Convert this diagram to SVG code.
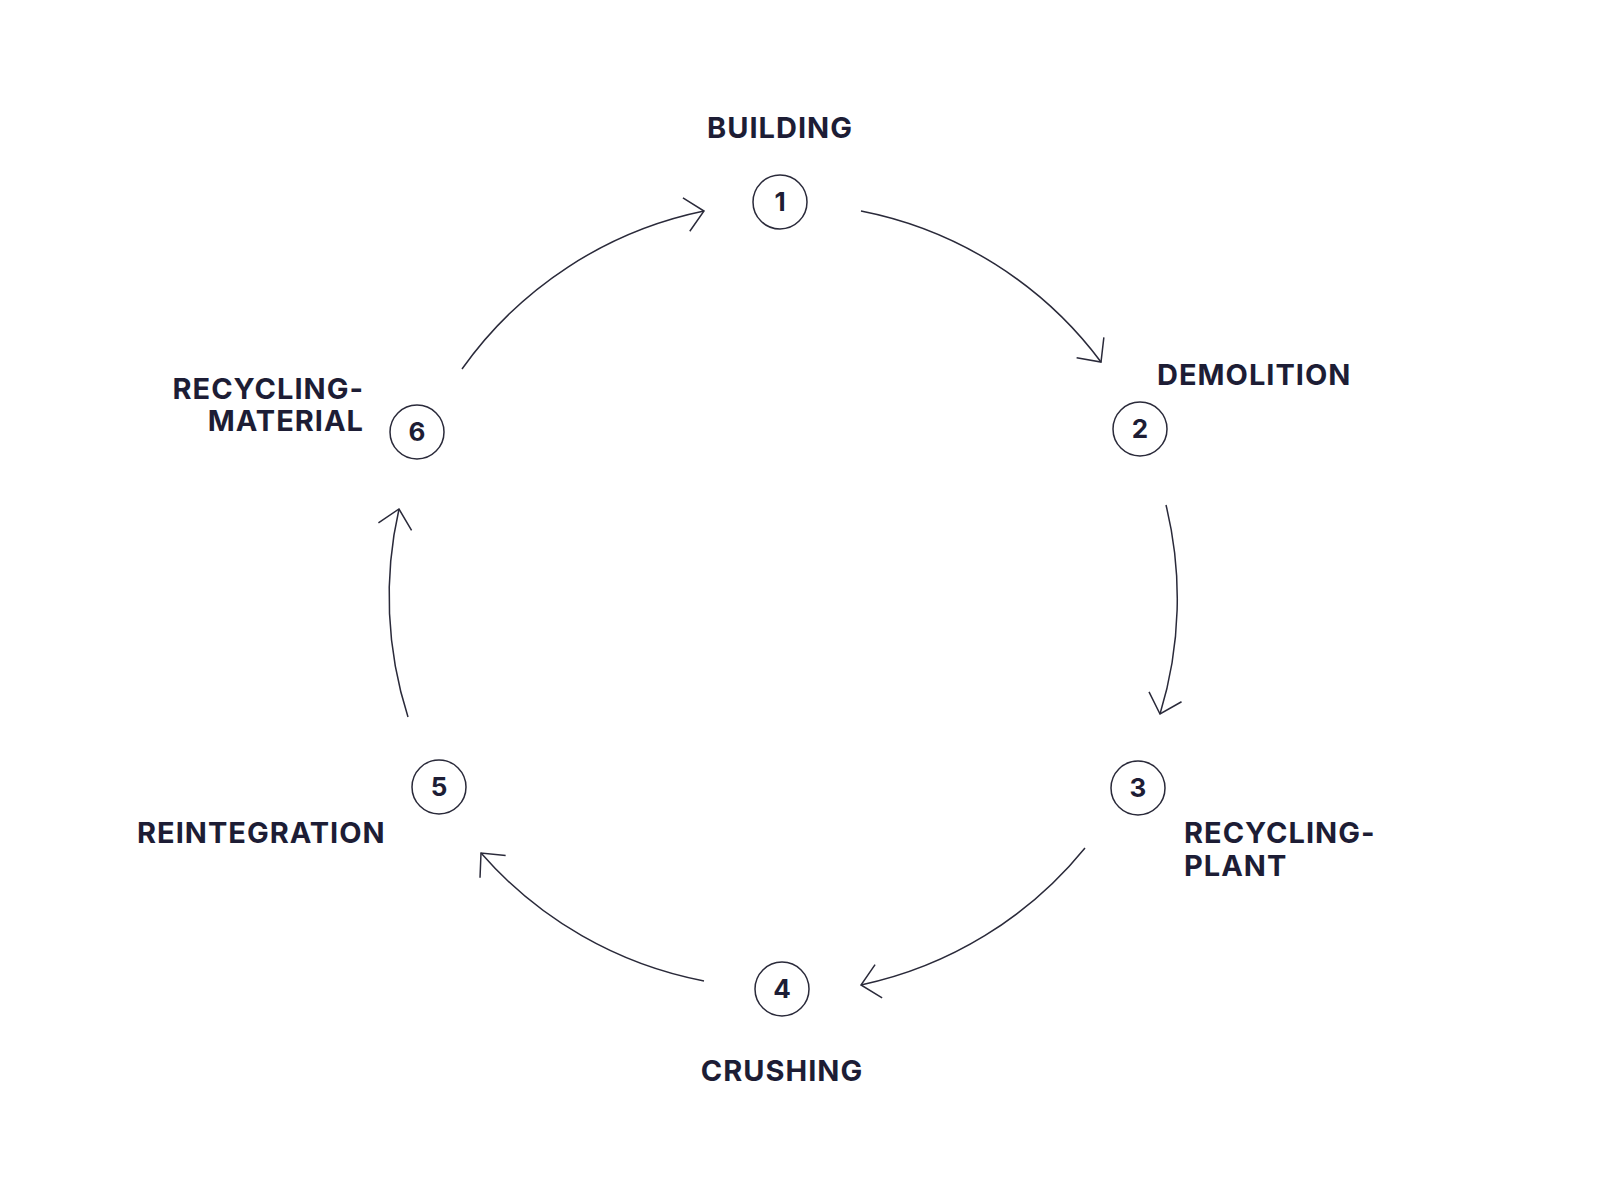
<svg xmlns="http://www.w3.org/2000/svg" width="1600" height="1200" viewBox="0 0 1600 1200">
<style>
.lbl{font-family:Inter,"Liberation Sans",sans-serif;font-weight:700;font-size:29px;fill:#1d1d35;letter-spacing:1px}
.num{font-family:Inter,"Liberation Sans",sans-serif;font-weight:700;font-size:26px;fill:#1d1d35;text-anchor:middle}
.ring{fill:#fff;stroke:#2a2a3a;stroke-width:1.5}
.arc{fill:none;stroke:#2a2a3a;stroke-width:1.5}
</style>
<defs>
<marker id="ah" markerUnits="userSpaceOnUse" markerWidth="40" markerHeight="40" refX="0" refY="0" viewBox="-20 -20 40 40" orient="auto" overflow="visible">
<path d="M-18,-17 L0,0 L-18,17" fill="none" stroke="#2a2a3a" stroke-width="1.5"/>
</marker>
</defs>
<rect width="1600" height="1200" fill="#fff"/>
<g id="connectors">
<path class="arc" marker-end="url(#ah)" d="M861,211 A394 394 0 0 1 1101,362"/>
<path class="arc" marker-end="url(#ah)" d="M1166,505 A394 394 0 0 1 1160,714"/>
<path class="arc" marker-end="url(#ah)" d="M1085,848 A394 394 0 0 1 861,985"/>
<path class="arc" marker-end="url(#ah)" d="M704,981 A394 394 0 0 1 481,853"/>
<path class="arc" marker-end="url(#ah)" d="M408,717 A394 394 0 0 1 399,509"/>
<path class="arc" marker-end="url(#ah)" d="M462,369 A394 394 0 0 1 704,211"/>
</g>
<g id="n1"><text class="lbl" x="780" y="138" text-anchor="middle">BUILDING</text><circle class="ring" cx="780" cy="202" r="27"/><text class="num" x="780" y="211">1</text></g>
<g id="n2"><text class="lbl" x="1157" y="385">DEMOLITION</text><circle class="ring" cx="1140" cy="429" r="27"/><text class="num" x="1140" y="438">2</text></g>
<g id="n3"><text class="lbl" x="1184" y="843">RECYCLING-</text><text class="lbl" x="1184" y="876">PLANT</text><circle class="ring" cx="1138" cy="788" r="27"/><text class="num" x="1138" y="797">3</text></g>
<g id="n4"><text class="lbl" x="782" y="1081" text-anchor="middle">CRUSHING</text><circle class="ring" cx="782" cy="989" r="27"/><text class="num" x="782" y="998">4</text></g>
<g id="n5"><text class="lbl" x="137" y="843">REINTEGRATION</text><circle class="ring" cx="439" cy="787" r="27"/><text class="num" x="439" y="796">5</text></g>
<g id="n6"><text class="lbl" x="364" y="399" text-anchor="end">RECYCLING-</text><text class="lbl" x="364" y="431" text-anchor="end">MATERIAL</text><circle class="ring" cx="417" cy="432" r="27"/><text class="num" x="417" y="441">6</text></g>
</svg>
